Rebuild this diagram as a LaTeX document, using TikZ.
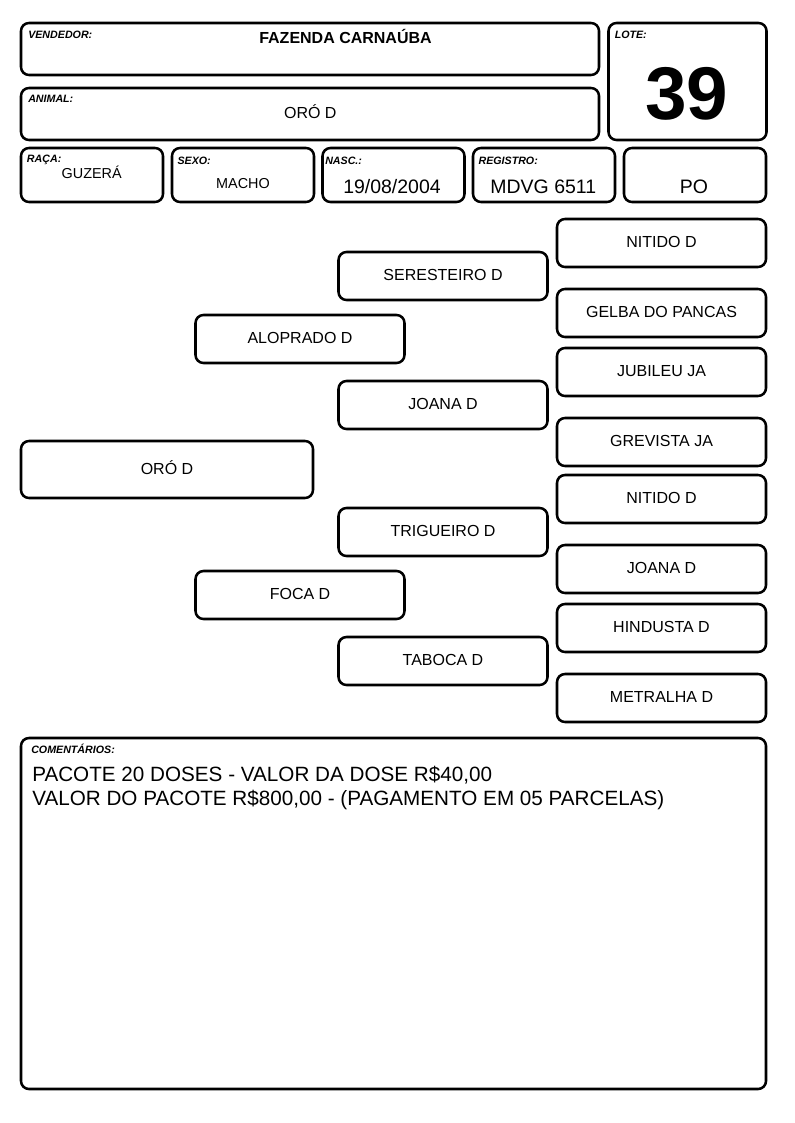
\documentclass[tikz,border=0pt]{standalone}
\usepackage{fontspec}
\setmainfont{Liberation Sans}
\tikzset{ %inner sep = 0mm,
  {cell/.style} ={draw, line width=1.9pt, rounded corners=6pt, inner sep=0,
                  text height=0.716em, text depth=0pt},
  {wh/.style 2 args} ={minimum width=#1*0.75pt, minimum height=#2*0.75pt},
  {horse/.style} ={cell, wh={209}{48}, font=\fontsize{12}{14}\selectfont},
  {tag/.style} ={anchor=base west, inner sep=0,
                 font=\fontsize{8}{9}\selectfont\bfseries\itshape},
  {value/.style} ={anchor=base, inner sep=0, font=\fontsize{12}{14}\selectfont},
  {small value/.style} ={value, font=\fontsize{10.8}{12}\selectfont},
  {large value/.style} ={value, font=\fontsize{14.6}{16}\selectfont},
  {note/.style} ={anchor=base west, inner sep=0, font=\fontsize{15.5}{18}\selectfont},
 }

\begin{document}
\begin{tikzpicture}[x=0.75pt,y=-0.75pt]
\useasboundingbox (0,0) rectangle (794,1123);
\node[cell, wh={578}{52}] (vendedor) at (310,49) {};
\node[cell, wh={158}{117}] (lote) at (687.5,81.5) {};
\node[cell, wh={578}{52}] (animal) at (310,114) {};
\node[cell, wh={142}{54}] (raca) at (92,175) {};
\node[cell, wh={142}{54}] (sexo) at (243,175) {};
\node[cell, wh={142}{54}] (nasc) at (393.5,175) {};
\node[cell, wh={142}{54}] (registro) at (544,175) {};
\node[cell, wh={142}{54}] (po) at (695,175) {};
\node[cell, wh={745}{351}] (comentarios) at (393.5,913.5) {};

\node[tag] (tvendedor) at (28,39) {VENDEDOR:};
\node[tag] (tlote) at (614.5,39) {LOTE:};
\node[tag] (tanimal) at (28,102.7) {ANIMAL:};
\node[tag] (traca) at (26.7,162.7) {RAÇA:};
\node[tag] (tsexo) at (177.3,165) {SEXO:};
\node[tag] (tnasc) at (325,165) {NASC.:};
\node[tag] (tregistro) at (478.3,165) {REGISTRO:};
\node[tag] (tcomentarios) at (31,753.5) {COMENTÁRIOS:};

\node[value, font=\fontsize{12}{14}\selectfont\bfseries] (vvendedor) at (345.5,43.3) {FAZENDA CARNAÚBA};
\node[value, font=\fontsize{56}{60}\selectfont\bfseries] (vlote) at (686.7,120) {39};
\node[value] (vanimal) at (310.3,119) {ORÓ D};
\node[small value] (vraca) at (91.7,178.3) {GUZERÁ};
\node[small value] (vsexo) at (243,189) {MACHO};
\node[large value] (vnasc) at (392,193.3) {19/08/2004};
\node[large value] (vregistro) at (543.3,193.3) {MDVG 6511};
\node[large value] (vpo) at (694,193.3) {PO};

\node[horse, wh={292}{57}] (oro) at (167,469.5) {ORÓ D};
\node[horse] (aloprado) at (300,339) {ALOPRADO D};
\node[horse] (foca) at (300,595) {FOCA D};
\node[horse] (seresteiro) at (443,276) {SERESTEIRO D};
\node[horse] (joana) at (443,405) {JOANA D};
\node[horse] (trigueiro) at (443,532) {TRIGUEIRO D};
\node[horse] (taboca) at (443,661) {TABOCA D};
\node[horse] (nitido) at (661.5,243) {NITIDO D};
\node[horse] (gelba) at (661.5,313) {GELBA DO PANCAS};
\node[horse] (jubileu) at (661.5,372) {JUBILEU JA};
\node[horse] (grevista) at (661.5,442) {GREVISTA JA};
\node[horse] (nitidob) at (661.5,499) {NITIDO D};
\node[horse] (joanab) at (661.5,569) {JOANA D};
\node[horse] (hindusta) at (661.5,628) {HINDUSTA D};
\node[horse] (metralha) at (661.5,698) {METRALHA D};

\node[note] (nota1) at (32,781) {PACOTE 20 DOSES - VALOR DA DOSE R\$40,00};
\node[note] (nota2) at (32,805) {VALOR DO PACOTE R\$800,00 - (PAGAMENTO EM 05 PARCELAS)};
\end{tikzpicture}
\end{document}
